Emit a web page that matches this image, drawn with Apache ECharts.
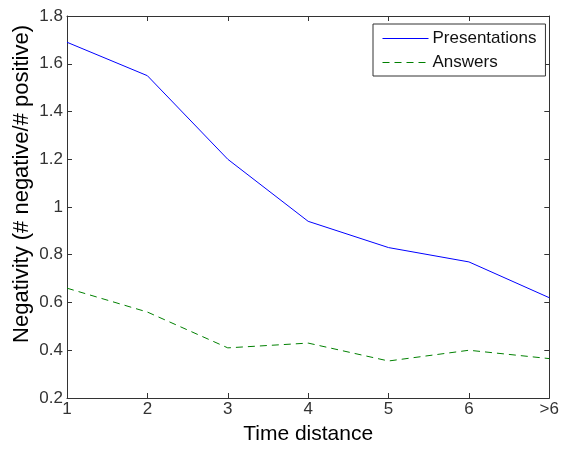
<!DOCTYPE html>
<html><head><meta charset="utf-8">
<script src="https://cdn.jsdelivr.net/npm/echarts@6/dist/echarts.min.js"></script>
<style>html,body{margin:0;padding:0;background:#fff}#c{width:562px;height:450px}</style>
</head><body><div id="c"></div>
<script>
const categories = ['1','2','3','4','5','6','>6'];
const presentations = [1.69, 1.55, 1.20, 0.94, 0.83, 0.77, 0.62];
const answers = [0.66, 0.56, 0.41, 0.43, 0.355, 0.40, 0.365];
const yTicks = {min: 0.2, max: 1.8, interval: 0.2};
const xName = 'Time distance';
const yName = 'Negativity (# negative/# positive)';

const chart = echarts.init(document.getElementById('c'));
const font = 'Liberation Sans, Arial, sans-serif';
const axisLine = {show: true, lineStyle: {color: '#333', width: 1}};
const tick = {show: true, inside: true, length: 5, lineStyle: {color: '#333'}};
chart.setOption({
  animation: false,
  grid: {left: 67, right: 11, top: 16, bottom: 51},
  legend: {
    orient: 'vertical', left: 373, top: 24,
    backgroundColor: '#fff', borderColor: '#333', borderWidth: 1,
    padding: [6, 9, 5, 9], itemGap: 7, itemWidth: 46, itemHeight: 14,
    itemStyle: {opacity: 0},
    lineStyle: {width: 1},
    textStyle: {fontFamily: font, fontSize: 17, color: '#111', padding: [0,0,0,-1]},
    data: ['Presentations', 'Answers']
  },
  graphic: [{
    type: 'text', x: 22, y: 184, rotation: Math.PI / 2,
    style: {text: yName, fontFamily: font, fontSize: 22, fill: '#000',
      align: 'center', verticalAlign: 'middle'}
  }],
  xAxis: [{
    type: 'category', data: categories, boundaryGap: false,
    axisLine: axisLine,
    axisTick: Object.assign({alignWithLabel: true}, tick),
    axisLabel: {fontFamily: font, fontSize: 17, color: '#333', margin: 3, showMinLabel: true, showMaxLabel: true},
    splitLine: {show: false},
    name: xName, nameLocation: 'middle', nameGap: 26,
    nameTextStyle: {fontFamily: font, fontSize: 21, color: '#000'}
  }, {
    type: 'category', data: categories, boundaryGap: false, position: 'top',
    axisLine: axisLine, axisTick: tick, axisLabel: {show: false}
  }],
  yAxis: [{
    type: 'value', min: yTicks.min, max: yTicks.max, interval: yTicks.interval,
    axisLine: axisLine, axisTick: tick,
    axisLabel: {fontFamily: font, fontSize: 17, color: '#333', margin: 4,
      formatter: v => (Math.round(v*10)/10).toString()},
    splitLine: {show: false}
  }, {
    type: 'value', min: yTicks.min, max: yTicks.max, interval: yTicks.interval, position: 'right',
    axisLine: axisLine, axisTick: tick, axisLabel: {show: false}, splitLine: {show: false}
  }],
  series: [{
    name: 'Presentations', type: 'line', data: presentations, symbol: 'none',
    lineStyle: {color: '#0000ff', width: 1}, itemStyle: {color: '#0000ff'}
  }, {
    name: 'Answers', type: 'line', data: answers, symbol: 'none',
    lineStyle: {color: '#008000', width: 1, type: [7, 5]}, itemStyle: {color: '#008000'}
  }]
});
</script></body></html>
